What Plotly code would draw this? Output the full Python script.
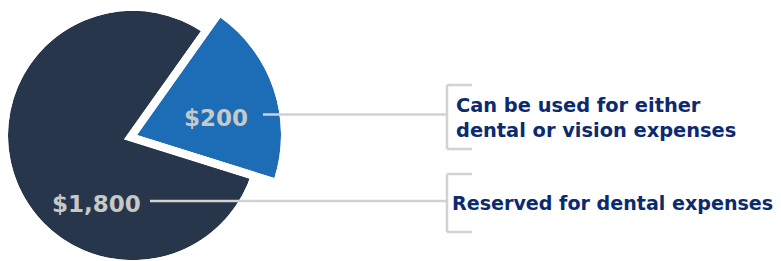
import math
import plotly.graph_objects as go

# ---------------- data ----------------
amount_labels = ["$1,800", "$200"]
slice_shares = [80, 20]  # share of the circle (%) as drawn in the picture
descriptions = ["Reserved for dental expenses",
                "Can be used for either<br>dental or vision expenses"]

# ---------------- style / layout ----------------
PAGE_OFF = 8               # default body margin of the html page
W, H = 781 - PAGE_OFF, 261 - PAGE_OFF
DARK = "#27364a"
BLUE = "#1c6db6"
LABEL_GRAY = "#c8c8c8"
LINE_GRAY = "#d2d2d2"
NAVY = "#0c2a70"
FONT = "DejaVu Sans"

start_angle = 54.6          # upper edge of the blue slice (deg, ccw from 3 o'clock)
total = sum(slice_shares)
dark_width = 360 * slice_shares[0] / total
blue_width = 360 * slice_shares[1] / total
blue_theta = start_angle - blue_width / 2
dark_theta = start_angle + dark_width / 2
blue_sector = [start_angle - blue_width, start_angle]

# pixel geometry (window coordinates)
C_DARK = (132, 135.5); R_DARK = 125.5
C_GAP = (123.5, 139.5); R_GAP = 142
C_BLUE = (137, 135); R_BLUE = 144


def sector_bbox(s0, s1):
    angs = [s0, s1] + [a for a in range(-360, 721, 90) if s0 <= a <= s1]
    xs = [0.0] + [math.cos(math.radians(a)) for a in angs]
    ys = [0.0] + [math.sin(math.radians(a)) for a in angs]
    return min(xs), min(ys), max(xs), max(ys)


def clamp(v):
    return max(0.0, min(1.0, v))


def px(x):
    return (x - PAGE_OFF) / W


def py(y):
    return 1 - (y - PAGE_OFF) / H


def polar_domain(c, R, s0=0, s1=360):
    x0, y0, x1, y1 = sector_bbox(s0, s1)
    left = c[0] + R * x0
    right = c[0] + R * x1
    top = c[1] - R * y1
    bottom = c[1] - R * y0
    return dict(x=[clamp(px(left)), clamp(px(right))],
                y=[clamp(py(bottom)), clamp(py(top))])


def polar_layout(domain, sector):
    return dict(
        domain=domain, sector=sector, bgcolor="rgba(0,0,0,0)", hole=0,
        radialaxis=dict(visible=False, range=[0, 1], showgrid=False,
                        showline=False, showticklabels=False, ticks=""),
        angularaxis=dict(visible=False, showgrid=False, showline=False,
                         showticklabels=False, ticks="", rotation=0,
                         direction="counterclockwise"),
    )


fig = go.Figure()
# dark slice
fig.add_trace(go.Barpolar(r=[1], theta=[dark_theta], width=[dark_width],
                          marker=dict(color=DARK, line=dict(width=0)),
                          subplot="polar", hoverinfo="skip", showlegend=False))
# white separator behind the blue slice
fig.add_trace(go.Barpolar(r=[1], theta=[blue_theta], width=[blue_width],
                          marker=dict(color="white", line=dict(width=0)),
                          subplot="polar2", hoverinfo="skip", showlegend=False))
# blue slice
fig.add_trace(go.Barpolar(r=[1], theta=[blue_theta], width=[blue_width],
                          marker=dict(color=BLUE, line=dict(width=0)),
                          subplot="polar3", hoverinfo="skip", showlegend=False))

line = dict(color=LINE_GRAY, width=2.5)
shapes = []
# leader lines
for x0, x1, y in [(263, 447, 114.5), (150, 447, 201)]:
    shapes.append(dict(type="line", xref="paper", yref="paper",
                       x0=px(x0), x1=px(x1), y0=py(y), y1=py(y), line=line))
# brackets
for top, bottom in [(85, 149), (174, 232)]:
    shapes.append(dict(type="line", xref="paper", yref="paper",
                       x0=px(447), x1=px(447), y0=py(top), y1=py(bottom), line=line))
    for yy in (top, bottom):
        shapes.append(dict(type="line", xref="paper", yref="paper",
                           x0=px(447), x1=px(472), y0=py(yy), y1=py(yy), line=line))

annotations = [
    dict(text=amount_labels[1], x=px(216), y=py(118), xref="paper", yref="paper",
         showarrow=False, xanchor="center", yanchor="middle",
         font=dict(family=FONT, size=23, color=LABEL_GRAY, weight="bold")),
    dict(text=amount_labels[0], x=px(96), y=py(204), xref="paper", yref="paper",
         showarrow=False, xanchor="center", yanchor="middle",
         font=dict(family=FONT, size=23, color=LABEL_GRAY, weight="bold")),
    dict(text=descriptions[1], x=px(454), y=py(118), xref="paper", yref="paper",
         showarrow=False, xanchor="left", yanchor="middle", align="left",
         font=dict(family=FONT, size=19.4, color=NAVY, weight="bold")),
    dict(text=descriptions[0], x=px(450), y=py(203), xref="paper", yref="paper",
         showarrow=False, xanchor="left", yanchor="middle", align="left",
         font=dict(family=FONT, size=19.1, color=NAVY, weight="bold")),
]

fig.update_layout(
    width=W, height=H, margin=dict(l=0, r=0, t=0, b=0),
    paper_bgcolor="white", plot_bgcolor="white", showlegend=False,
    polar=polar_layout(polar_domain(C_DARK, R_DARK), [0, 360]),
    polar2=polar_layout(polar_domain(C_GAP, R_GAP, *blue_sector), blue_sector),
    polar3=polar_layout(polar_domain(C_BLUE, R_BLUE, *blue_sector), blue_sector),
    shapes=shapes, annotations=annotations,
)

fig.write_html("out.html")
